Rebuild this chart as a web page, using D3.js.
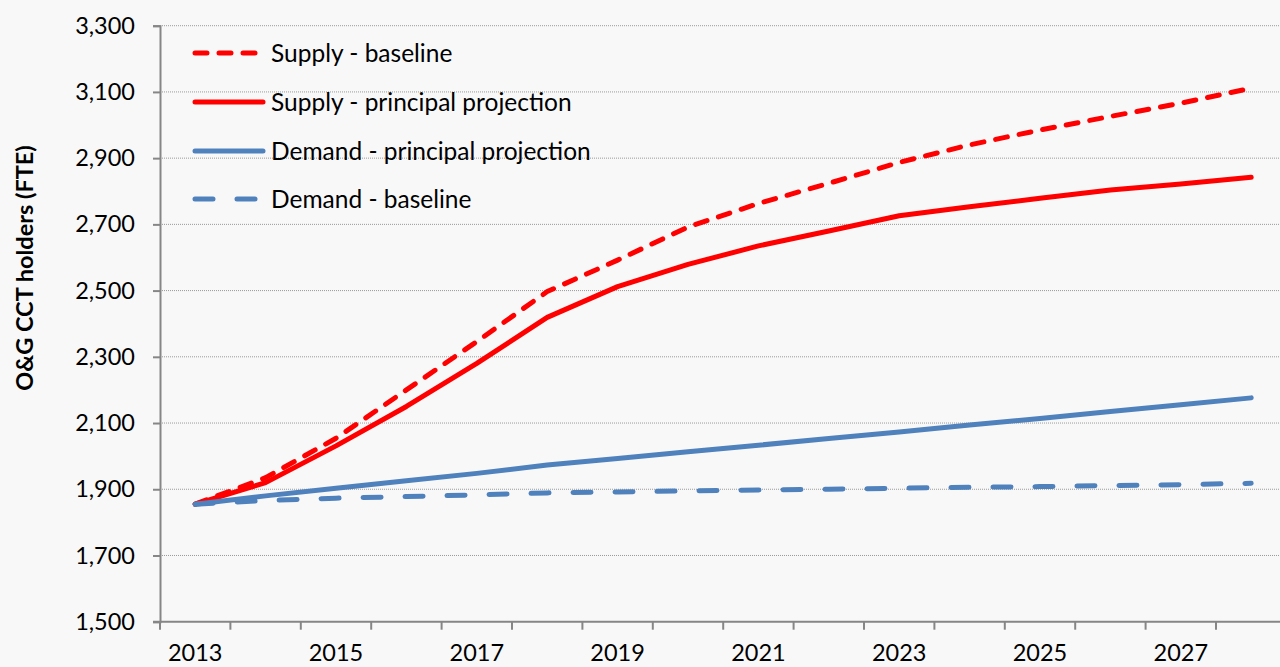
<!DOCTYPE html>
<html>
<head>
<meta charset="utf-8">
<script src="https://cdn.jsdelivr.net/npm/d3@7"></script>
<style>
  body { margin: 0; background: #f8f8f8; }
  svg { display: block; font-family: Lato, "Open Sans", sans-serif; }
</style>
</head>
<body>
<svg id="chart"></svg>
<script>
// data
const years = d3.range(2013, 2029);
const supplyBaseline  = [1855, 1935, 2054, 2200, 2346, 2497, 2592, 2692, 2763, 2824, 2887, 2940, 2985, 3026, 3066, 3111];
const supplyPrincipal = [1855, 1920, 2031, 2150, 2280, 2419, 2512, 2579, 2635, 2680, 2726, 2753, 2779, 2804, 2822, 2842];
const demandPrincipal = [1855, 1880, 1903, 1926, 1948, 1973, 1993, 2013, 2033, 2053, 2073, 2094, 2114, 2135, 2155, 2176];
const demandBaseline  = [1855, 1866, 1873, 1878, 1883, 1889, 1892, 1895, 1898, 1900, 1903, 1906, 1908, 1911, 1914, 1918];
const yTicks = [1500, 1700, 1900, 2100, 2300, 2500, 2700, 2900, 3100, 3300];
const xLabels = [2013, 2015, 2017, 2019, 2021, 2023, 2025, 2027];

const series = [
  { name: 'Supply - baseline', values: supplyBaseline, color: '#ff0000', dash: '12,12' },
  { name: 'Supply - principal projection', values: supplyPrincipal, color: '#ff0000', dash: null },
  { name: 'Demand - principal projection', values: demandPrincipal, color: '#4f81bd', dash: null },
  { name: 'Demand - baseline', values: demandBaseline, color: '#4f81bd', dash: '18,24' }
];

const width = 1280, height = 667;
const plotLeft = 160, plotTop = 25.7, plotBottom = 621.7;
const band = 70.4;

const svg = d3.select('#chart').attr('width', width).attr('height', height);

const x = d3.scaleBand().domain(years).range([plotLeft, plotLeft + band * years.length]).padding(0);
const y = d3.scaleLinear().domain([1500, 3300]).range([plotBottom, plotTop]);
const cx = d => x(d) + x.bandwidth() / 2;

// gridlines
svg.append('g')
  .selectAll('line')
  .data(yTicks.slice(1))
  .join('line')
  .attr('x1', plotLeft).attr('x2', width)
  .attr('y1', d => y(d)).attr('y2', d => y(d))
  .attr('stroke', '#9a9a9a')
  .attr('stroke-width', 1)
  .attr('stroke-dasharray', '1,1');

// y axis
const yAxis = svg.append('g')
  .attr('transform', `translate(${plotLeft},0)`)
  .call(d3.axisLeft(y).tickValues(yTicks).tickSize(7).tickPadding(18).tickFormat(d3.format(',')));
yAxis.select('.domain').attr('stroke', '#868686').attr('stroke-width', 2);
yAxis.selectAll('.tick line').attr('stroke', '#868686').attr('stroke-width', 2);
yAxis.selectAll('text').attr('font-size', 23.5).attr('fill', '#000').attr('font-family', 'Lato');

// x axis: line, boundary ticks, labels
const xAxis = svg.append('g');
xAxis.append('line')
  .attr('x1', plotLeft - 7).attr('x2', width)
  .attr('y1', plotBottom).attr('y2', plotBottom)
  .attr('stroke', '#868686').attr('stroke-width', 2);
xAxis.selectAll('line.tk')
  .data(years.concat([2029]))
  .join('line')
  .attr('class', 'tk')
  .attr('x1', d => d === 2029 ? x(2028) + band : x(d))
  .attr('x2', d => d === 2029 ? x(2028) + band : x(d))
  .attr('y1', plotBottom).attr('y2', plotBottom + 8)
  .attr('stroke', '#868686').attr('stroke-width', 2);
xAxis.selectAll('text')
  .data(xLabels)
  .join('text')
  .attr('x', d => cx(d))
  .attr('y', 661)
  .attr('text-anchor', 'middle')
  .attr('font-size', 23.5)
  .text(d => d);

// axis title
svg.append('text')
  .attr('transform', 'translate(33,268) rotate(-90)')
  .attr('text-anchor', 'middle')
  .attr('font-size', 23.5)
  .attr('font-weight', 'bold')
  .text('O&G CCT holders (FTE)');

// lines
const line = d3.line()
  .x((d, i) => cx(years[i]))
  .y(d => y(d));

svg.append('g')
  .selectAll('path')
  .data(series)
  .join('path')
  .attr('d', d => line(d.values))
  .attr('fill', 'none')
  .attr('stroke', d => d.color)
  .attr('stroke-width', 5)
  .attr('stroke-linecap', 'round')
  .attr('stroke-linejoin', 'round')
  .attr('stroke-dasharray', d => d.dash);

// legend
const legend = svg.append('g');
const rowY = [53, 102, 151, 199];
const item = legend.selectAll('g')
  .data(series)
  .join('g')
  .attr('transform', (d, i) => `translate(0,${rowY[i]})`);
item.append('line')
  .attr('x1', 195).attr('x2', d => d.dash ? 257 : 263)
  .attr('y1', 0).attr('y2', 0)
  .attr('stroke', d => d.color)
  .attr('stroke-width', 5)
  .attr('stroke-linecap', 'round')
  .attr('stroke-dasharray', d => d.dash);
item.append('text')
  .attr('x', 271)
  .attr('y', 0)
  .attr('dy', '0.35em')
  .attr('font-size', 24.5)
  .text(d => d.name);
</script>
</body>
</html>
